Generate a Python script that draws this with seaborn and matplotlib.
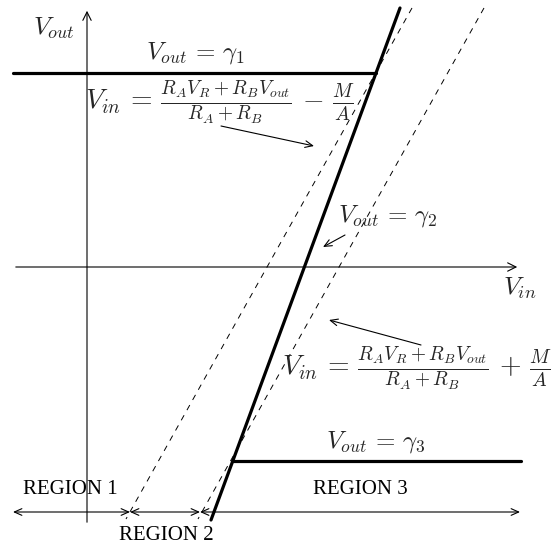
import pandas as pd
import numpy as np
import matplotlib
matplotlib.use('Agg')
import matplotlib.pyplot as plt
import seaborn as sns

# coordenadas del esquema (origen en el cruce de los ejes)
gamma1 = 194
gamma3 = -194
eje_x = [-74, 433]
eje_y = [-258, 259]

# recta gruesa (zona lineal) y rectas discontinuas (umbrales)
recta_x = [313, 124]
recta_y = [259, -253]
umbral_menos_x = [325, 39]
umbral_mas_x = [397, 111]
umbral_y = [259, -252]

# niveles de saturacion
gamma1_x = [-74, 289]
gamma3_x = [145, 434]

# regiones (flechas de abajo)
region_y = -245
region_bordes = [-74, 43, 113, 433]
region_textos = ['REGION 1', 'REGION 2', 'REGION 3']
region_texto_pos = [(-17, -223), (79, -268), (273, -223)]

sns.set_theme(style='white')
plt.rcParams['mathtext.fontset'] = 'cm'

fig = plt.figure(figsize=(5.56, 5.48), dpi=100)
ax = fig.add_axes([0, 0, 1, 1])
ax.set_xlim(-87, 469)
ax.set_ylim(-281, 267)
ax.axis('off')

# ejes con flecha
ax.annotate('', xy=(eje_x[1], 0), xytext=(eje_x[0], 0),
            arrowprops=dict(arrowstyle='->,head_length=0.5,head_width=0.25', lw=0.8, color='black'))
ax.annotate('', xy=(0, eje_y[1]), xytext=(0, eje_y[0]),
            arrowprops=dict(arrowstyle='->,head_length=0.5,head_width=0.25', lw=0.8, color='black'))

# tramos gruesos
df_g1 = pd.DataFrame({'x': gamma1_x, 'y': [gamma1, gamma1]})
df_g3 = pd.DataFrame({'x': gamma3_x, 'y': [gamma3, gamma3]})
df_rec = pd.DataFrame({'x': recta_x, 'y': recta_y})
for d in [df_g1, df_g3, df_rec]:
    sns.lineplot(data=d, x='x', y='y', sort=False, color='black', lw=2.3, ax=ax)

# rectas discontinuas
for ux in [umbral_menos_x, umbral_mas_x]:
    d = pd.DataFrame({'x': ux, 'y': umbral_y})
    sns.lineplot(data=d, x='x', y='y', sort=False, color='black', lw=0.7,
                 dashes=False, ax=ax, linestyle=(0, (6, 6)))

# flechas de regiones
for i in range(len(region_textos)):
    ax.annotate('', xy=(region_bordes[i + 1], region_y), xytext=(region_bordes[i], region_y),
                arrowprops=dict(arrowstyle='<->,head_length=0.45,head_width=0.2', lw=0.8,
                                color='black', shrinkA=0, shrinkB=0))
    ax.text(region_texto_pos[i][0], region_texto_pos[i][1], region_textos[i],
            ha='center', va='center', fontsize=15, family='Liberation Serif', color='black')

# etiquetas
ax.text(-33, 239, r'$V_{out}$', ha='center', va='center', fontsize=18.5)
ax.text(433, -21, r'$V_{in}$', ha='center', va='center', fontsize=18.5)
ax.text(108, 214, r'$V_{out}\,=\,\gamma_1$', ha='center', va='center', fontsize=18)
ax.text(301, 51, r'$V_{out}\,=\,\gamma_2$', ha='center', va='center', fontsize=18)
ax.text(289, -175, r'$V_{out}\,=\,\gamma_3$', ha='center', va='center', fontsize=18)
ax.text(133, 165, r'$V_{in}\,=\,\frac{R_A V_R+R_B V_{out}}{R_A+R_B}\,-\,\frac{M}{A}$',
        ha='center', va='center', fontsize=20)
ax.text(330, -101, r'$V_{in}\,=\,\frac{R_A V_R+R_B V_{out}}{R_A+R_B}\,+\,\frac{M}{A}$',
        ha='center', va='center', fontsize=20)

flecha = dict(arrowstyle='->,head_length=0.45,head_width=0.2', lw=0.8, color='black',
              shrinkA=0, shrinkB=0)
ax.annotate('', xy=(227, 121), xytext=(134, 141), arrowprops=flecha)
ax.annotate('', xy=(236, 20), xytext=(258, 32), arrowprops=flecha)
ax.annotate('', xy=(242, -53), xytext=(334, -78), arrowprops=flecha)

fig.savefig('out.png', dpi=100, facecolor='white')
